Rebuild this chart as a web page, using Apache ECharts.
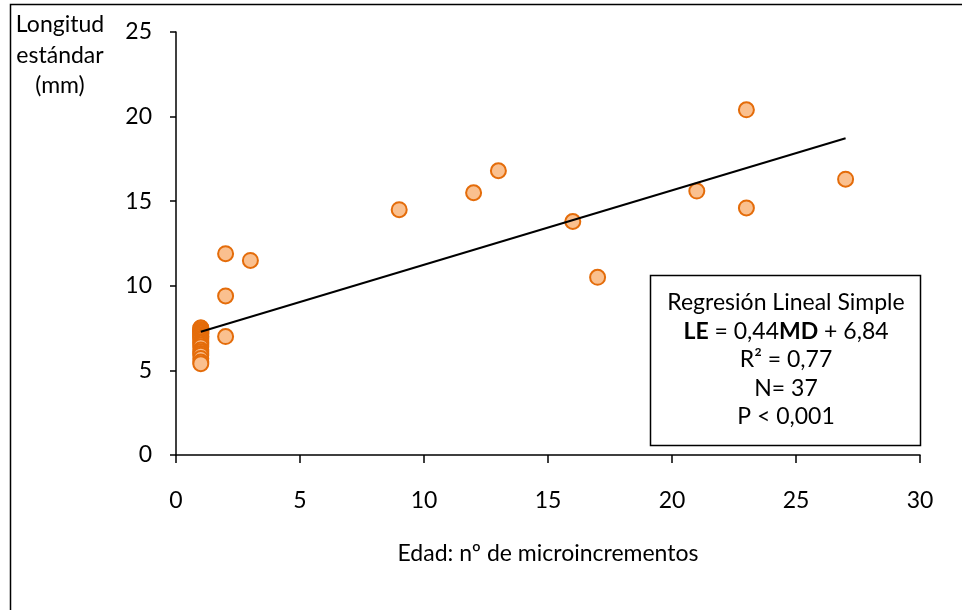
<!DOCTYPE html>
<html>
<head>
<meta charset="utf-8">
<script src="https://cdn.jsdelivr.net/npm/echarts@6/dist/echarts.min.js"></script>
<style>
html,body{margin:0;padding:0;background:#fff;}
#chart{width:962px;height:610px;}
</style>
</head>
<body>
<div id="chart"></div>
<script>
// Data
var edad = [1,1,1,1,1,1,1,1,1,1,1,1,1,1,1,1,1,1,1,1,1,1,1,1,2,2,2,3,9,12,13,16,17,21,23,23,27];
var longitud = [7.5,7.5,7.4,7.4,7.3,7.3,7.2,7.2,7.1,7.0,7.0,6.9,6.8,6.7,6.6,6.5,6.4,6.2,6.1,6.0,5.9,5.7,5.5,5.4,11.9,9.4,7.0,11.5,14.5,15.5,16.8,13.8,10.5,15.6,20.4,14.6,16.3];
var slope = 0.44;
var intercept = 6.84;
var lineRange = [1, 27];
var xTicks = [0, 5, 10, 15, 20, 25, 30];
var yTicks = [0, 5, 10, 15, 20, 25];
var legendLines = ['Regresión Lineal Simple', 'LE', '0,44', 'MD', '6,84', 'R² = 0,77', 'N= 37', 'P < 0,001'];

var FONT = 'Lato';
var FS = 23;
var points = edad.map(function (x, i) { return [x, longitud[i]]; });
var fitLine = lineRange.map(function (x) { return [x, slope * x + intercept]; });

var chart = echarts.init(document.getElementById('chart'), null, {renderer: 'canvas'});
var lbx = 786, lby = 303, lstep = 28.5;
var txtStyle = {fontFamily: FONT, fontSize: FS, fill: '#000', textAlign: 'center', textVerticalAlign: 'middle'};
function tline(i, text, rich) {
  var s = Object.assign({}, txtStyle, {text: text});
  if (rich) s.rich = rich;
  return {type: 'text', x: lbx, y: lby + i * lstep, style: s, z: 20};
}
chart.setOption({
  animation: false,
  backgroundColor: '#fff',
  grid: {left: 176, right: 42, top: 32, bottom: 155},
  xAxis: {
    type: 'value', min: xTicks[0], max: xTicks[xTicks.length - 1], interval: 5,
    name: 'Edad: nº de microincrementos', nameLocation: 'middle', nameGap: 87,
    nameTextStyle: {fontFamily: FONT, fontSize: FS, color: '#000'},
    axisLine: {lineStyle: {color: '#000', width: 1.5}},
    axisTick: {show: true, length: 8, lineStyle: {color: '#000', width: 1.5}},
    axisLabel: {fontFamily: FONT, fontSize: FS, color: '#000', margin: 34},
    splitLine: {show: false}
  },
  yAxis: {
    type: 'value', min: yTicks[0], max: yTicks[yTicks.length - 1], interval: 5,
    axisLine: {show: true, lineStyle: {color: '#000', width: 1.5}},
    axisTick: {show: true, length: 6, lineStyle: {color: '#000', width: 1.5}},
    axisLabel: {fontFamily: FONT, fontSize: FS, color: '#000', margin: 24},
    splitLine: {show: false}
  },
  series: [
    {
      type: 'line', data: fitLine, symbol: 'none', silent: true,
      lineStyle: {color: '#000', width: 2}, z: 3
    },
    {
      type: 'scatter', data: points, symbol: 'circle', symbolSize: 15,
      itemStyle: {color: '#FAC08F', borderColor: '#E46C0A', borderWidth: 2, opacity: 1}, z: 2
    }
  ],
  graphic: [
    {type: 'rect', shape: {x: 10.5, y: 4.5, width: 1000, height: 700}, style: {fill: null, stroke: '#000', lineWidth: 1.5}, z: 0, silent: true},
    {type: 'text', x: 60, y: 25, style: Object.assign({}, txtStyle, {text: 'Longitud'})},
    {type: 'text', x: 60, y: 56, style: Object.assign({}, txtStyle, {text: 'estándar'})},
    {type: 'text', x: 60, y: 86, style: Object.assign({}, txtStyle, {text: '(mm)'})},
    {type: 'rect', shape: {x: 650.5, y: 275.5, width: 270, height: 170}, style: {fill: '#fff', stroke: '#000', lineWidth: 1.5}, z: 10},
    tline(0, legendLines[0]),
    tline(1, '{b|' + legendLines[1] + '} = ' + legendLines[2] + '{b|' + legendLines[3] + '} + ' + legendLines[4],
      {b: {fontFamily: FONT, fontSize: FS, fontWeight: 'bold'}}),
    tline(2, legendLines[5]),
    tline(3, legendLines[6]),
    tline(4, legendLines[7])
  ]
});
</script>
</body>
</html>
